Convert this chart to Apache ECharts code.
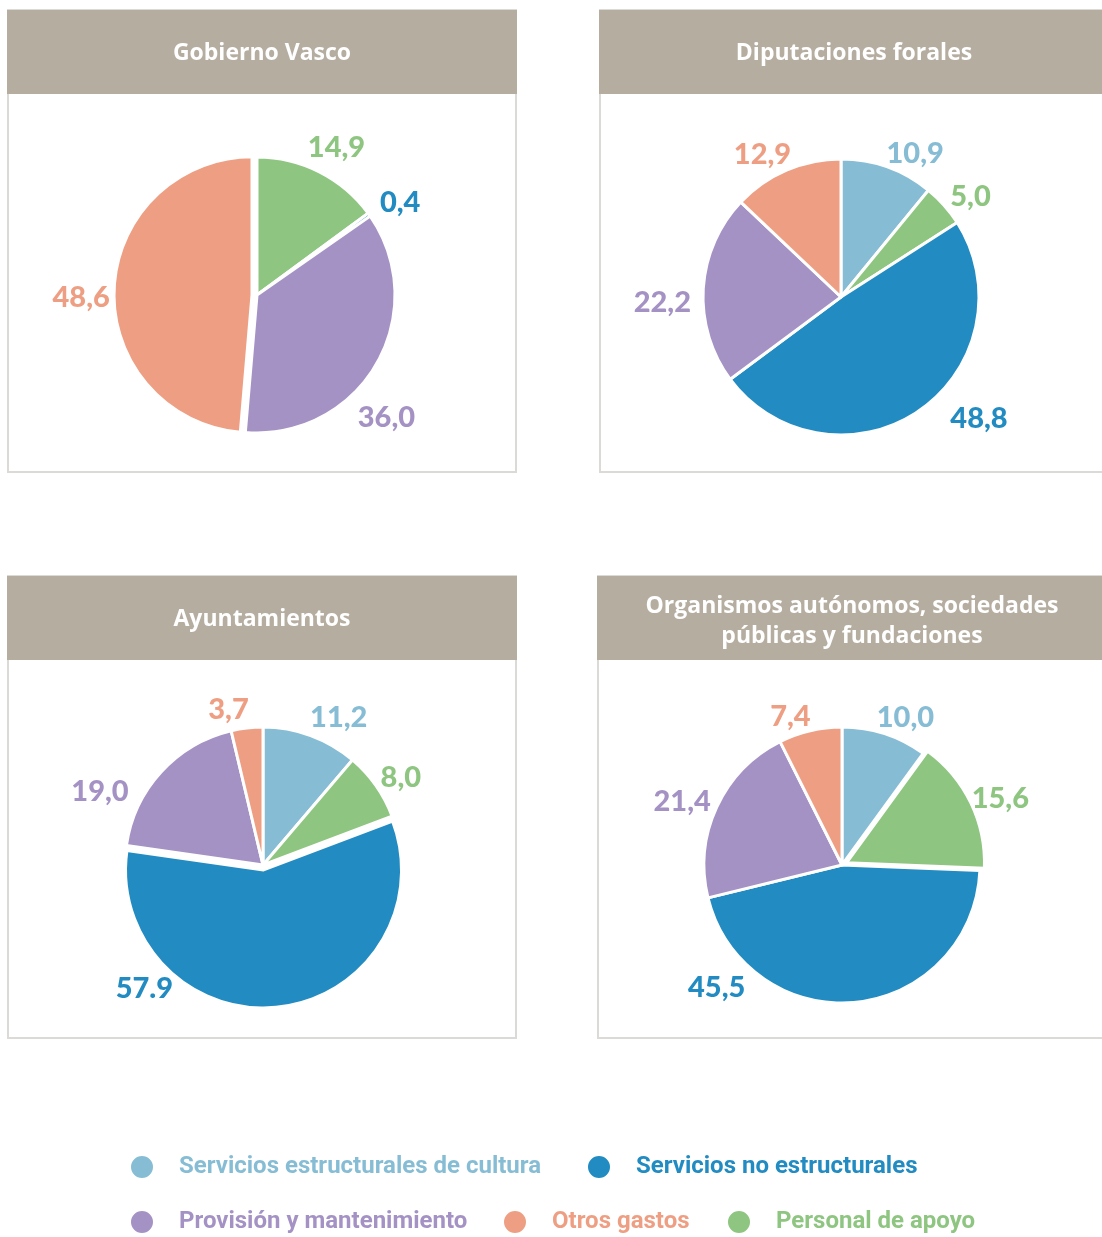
<!DOCTYPE html>
<html>
<head>
<meta charset="utf-8">
<script src="https://cdn.jsdelivr.net/npm/echarts@6/dist/echarts.min.js"></script>
<style>
  html, body { margin: 0; padding: 0; background: #fff; }
  #chart { width: 1102px; height: 1237px; }
</style>
</head>
<body>
<div id="chart"></div>
<script>
// categorías en el orden de las porciones (sentido horario desde arriba)
const categories = [
  "Servicios estructurales de cultura",
  "Personal de apoyo",
  "Servicios no estructurales",
  "Provisión y mantenimiento",
  "Otros gastos",
];
const colors = ["#86bdd5", "#8ec580", "#228cc2", "#a492c5", "#ee9f83"];

// porcentajes
const gobiernoVasco = [0, 14.9, 0.4, 36.0, 48.6];
const diputaciones = [10.9, 5.0, 48.8, 22.2, 12.9];
const ayuntamientos = [11.2, 8.0, 57.9, 19.0, 3.7];
const organismos = [10.0, 15.6, 45.5, 21.4, 7.4];

// etiqueta tal cual aparece en el original (57.9 con punto)
const textOverride = { "Ayuntamientos": { "Servicios no estructurales": "57.9" } };

const labelFont = "Lato";
const titleFont = "'Open Sans'";
const legendFont = "Roboto";

// desplazamientos de etiquetas (px) respecto al anillo de etiquetas
const panels = [
  { title: ["Gobierno Vasco"], values: gobiernoVasco, box: [8, 10, 508, 462], center: [257, 295],
    explode: "Otros gastos",
    shift: { "Provisión y mantenimiento": [-23, 25] } },
  { title: ["Diputaciones forales"], values: diputaciones, box: [600, 10, 520, 462], center: [841, 297],
    explode: null,
    shift: { "Servicios no estructurales": [38, -33], "Servicios estructurales de cultura": [15, 12],
             "Otros gastos": [-9, 9], "Personal de apoyo": [-2, 7], "Provisión y mantenimiento": [-3, 6] } },
  { title: ["Ayuntamientos"], values: ayuntamientos, box: [8, 576, 508, 462], center: [263, 865],
    explode: "Servicios no estructurales",
    shift: { "Servicios no estructurales": [-138, -61], "Provisión y mantenimiento": [-33, 35],
             "Otros gastos": [-14, 9], "Servicios estructurales de cultura": [15, 8], "Personal de apoyo": [-6, 4] } },
  { title: ["Organismos autónomos, sociedades", "públicas y fundaciones"], values: organismos,
    box: [598, 576, 520, 462], center: [842, 865],
    explode: "Personal de apoyo",
    shift: { "Servicios no estructurales": [-143, -62], "Otros gastos": [-11, 13],
             "Servicios estructurales de cultura": [9, 10] } },
];

const fmt = (v) => v.toFixed(1).replace(".", ",");

const series = [];
const graphic = [];

panels.forEach((p) => {
  const [bx, by, bw, bh] = p.box;
  graphic.push({
    type: "rect", z: 0,
    shape: { x: bx, y: by, width: bw, height: bh },
    style: { fill: "#fff", stroke: "#dcdad6", lineWidth: 2 },
  });
  graphic.push({
    type: "rect", z: 1,
    shape: { x: bx - 1, y: by, width: bw + 2, height: 84 },
    style: { fill: "#b5ada0" },
  });
  const tx = bx + 254;
  p.title.forEach((t, i) => {
    const ty = p.title.length === 1 ? by + 43 : by + 30 + i * 30;
    graphic.push({
      type: "text", z: 2, x: tx, y: ty,
      style: {
        text: t, align: "center", verticalAlign: "middle", fill: "#fff",
        font: "bold 23px " + titleFont,
      },
    });
  });

  const name = p.title.join(" ");
  const key = p.title[0] === "Ayuntamientos" ? "Ayuntamientos" : name;
  const items = categories
    .map((c, i) => ({ name: c, value: p.values[i], color: colors[i] }))
    .filter((d) => d.value > 0);

  // tarta
  series.push({
    type: "pie",
    name: name,
    center: p.center,
    radius: 138,
    startAngle: 90,
    clockwise: true,
    selectedMode: "single",
    selectedOffset: 5,
    animation: false,
    label: { show: false },
    labelLine: { show: false },
    emphasis: { scale: false },
    itemStyle: { borderColor: "#fff", borderWidth: 3 },
    data: items.map((d) => ({
      name: d.name, value: d.value, selected: d.name === p.explode,
      itemStyle: { color: d.color },
    })),
  });

  // anillo transparente que solo sirve para colocar las etiquetas
  const ov = textOverride[key] || {};
  series.push({
    type: "pie",
    name: name + " etiquetas",
    center: p.center,
    radius: [156, 190],
    startAngle: 90,
    clockwise: true,
    silent: true,
    animation: false,
    itemStyle: { color: "rgba(0,0,0,0)", borderWidth: 0 },
    emphasis: { disabled: true },
    label: {
      show: true, position: "inside",
      fontFamily: labelFont, fontWeight: 900, fontSize: 29,
      formatter: (prm) => ov[prm.name] || fmt(prm.value),
    },
    labelLine: { show: false },
    labelLayout: (prm) => {
      const s = p.shift[items[prm.dataIndex].name] || [0, 0];
      return { dx: s[0], dy: s[1] + 10 };
    },
    data: items.map((d) => ({
      name: d.name, value: d.value,
      label: { color: d.color },
    })),
  });
});

// leyenda: una entrada por componente para respetar su posición
const legendItems = [
  { name: categories[0], color: colors[0], cx: 141, cy: 1166 },
  { name: categories[2], color: colors[2], cx: 598, cy: 1166 },
  { name: categories[3], color: colors[3], cx: 141, cy: 1221 },
  { name: categories[4], color: colors[4], cx: 514, cy: 1221 },
  { name: categories[1], color: colors[1], cx: 738, cy: 1221 },
];
const legend = legendItems.map((l) => ({
  left: l.cx - 12,
  top: l.cy - 12,
  padding: 0,
  itemWidth: 24,
  itemHeight: 24,
  selectedMode: false,
  icon: "circle",
  data: [{ name: l.name, itemStyle: { color: l.color } }],
  textStyle: {
    color: l.color, fontSize: 24, fontWeight: "bold", fontFamily: legendFont,
    padding: [0, 0, 0, 20],
  },
}));

const chart = echarts.init(document.getElementById("chart"));
chart.setOption({
  backgroundColor: "#fff",
  animation: false,
  graphic: graphic,
  legend: legend,
  series: series,
});
</script>
</body>
</html>
